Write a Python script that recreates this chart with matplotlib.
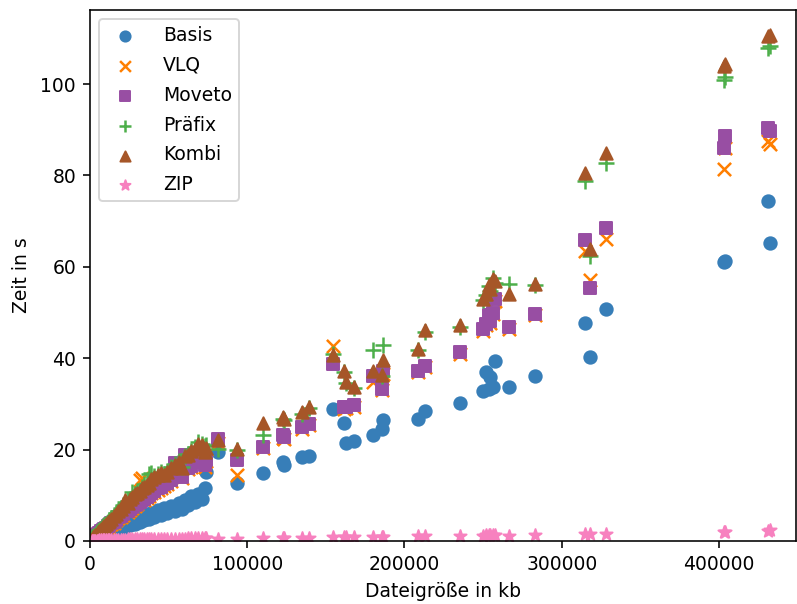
import matplotlib
matplotlib.use("Agg")
import matplotlib.pyplot as plt

# file sizes in kb
size_kb = [1000, 1800, 2600, 3400, 4300, 5200, 6000, 7000, 8000, 9000,
           10000, 11200, 12400, 13600, 15000, 16500, 18000, 19500, 21000, 22500,
           24000, 25500, 27000, 28500, 30000, 31500, 33000, 34500, 36000, 37500,
           39000, 41000, 43000, 45000, 47000, 49000, 51500, 54000, 56500, 58500,
           60500, 62500, 64500, 66500, 69000, 71000, 73000, 73500,
           81600, 93200, 109800, 122500, 123500, 134600, 139400, 154700, 161500, 162500,
           168000, 180000, 185500, 186500, 208300, 213000, 235200, 250000, 252000, 253500,
           254500, 256000, 257500, 266400, 282900, 314700, 317800, 328200, 403000, 403700,
           431000, 432300]

basis = [0.3, 0.4, 0.6, 0.5, 0.9, 0.8, 1.2, 1.0, 1.5, 1.3,
         1.8, 1.6, 2.3, 1.9, 2.7, 2.3, 3.1, 2.6, 3.6, 3.0,
         4.0, 3.4, 4.5, 3.8, 5.0, 4.2, 5.4, 4.6, 5.9, 4.9,
         6.2, 5.3, 6.7, 5.7, 7.2, 6.1, 7.7, 6.6, 8.4, 7.1,
         8.9, 7.8, 9.8, 8.5, 10.3, 9.2, 11.5, 15.1,
         19.5, 12.6, 14.9, 17.3, 16.6, 18.3, 18.7, 28.8, 25.8, 21.5,
         21.9, 23.3, 24.4, 26.4, 26.8, 28.4, 30.2, 32.8, 37.0, 33.3,
         35.9, 33.6, 39.3, 33.8, 36.0, 47.7, 40.2, 50.7, 61.0, 61.2,
         74.5, 65.2]

vlq = [0.5, 0.7, 0.9, 1.1, 1.3, 1.5, 1.7, 2.0, 2.3, 2.5,
       2.8, 3.1, 3.4, 3.7, 4.0, 4.5, 5.0, 5.2, 5.6, 6.9,
       6.3, 6.8, 7.2, 7.6, 8.0, 13.3, 13.7, 9.0, 9.5, 9.9,
       10.4, 10.8, 11.2, 11.6, 12.1, 12.5, 13.1, 16.6, 14.3, 13.8,
       18.5, 15.7, 16.2, 17.0, 17.6, 17.7, 16.3, 17.4,
       21.5, 14.4, 20.4, 22.6, 22.3, 24.6, 25.3, 42.6, 28.9, 29.0,
       29.4, 34.8, 33.0, 36.6, 37.0, 38.0, 41.0, 46.0, 47.2, 49.2,
       47.8, 49.7, 52.6, 46.5, 49.4, 63.5, 57.1, 66.1, 81.5, 86.0,
       87.5, 86.8]

moveto = [0.5, 0.7, 0.9, 1.1, 1.4, 1.6, 1.8, 2.1, 2.4, 2.6,
          2.9, 3.2, 3.5, 3.9, 4.2, 4.6, 5.2, 5.4, 5.8, 7.1,
          6.5, 7.0, 7.4, 7.8, 8.2, 8.5, 9.0, 9.2, 9.7, 10.1,
          10.6, 11.0, 11.5, 11.8, 12.4, 12.7, 13.4, 17.0, 14.6, 14.0,
          18.8, 16.0, 16.5, 17.3, 17.9, 18.0, 16.6, 17.7,
          22.4, 17.7, 20.6, 23.1, 22.8, 25.0, 25.7, 38.8, 29.3, 29.4,
          29.7, 36.2, 33.3, 37.2, 37.2, 38.3, 41.3, 46.3, 47.5, 49.5,
          48.1, 50.0, 53.0, 46.8, 49.7, 65.9, 55.3, 68.6, 86.1, 88.6,
          90.3, 89.8]

praefix = [0.6, 0.8, 1.1, 1.4, 1.7, 2.0, 2.3, 2.7, 3.1, 3.4,
           3.8, 4.1, 4.6, 5.0, 5.5, 6.1, 6.5, 7.2, 7.8, 8.6,
           8.7, 9.0, 10.8, 10.3, 10.7, 11.2, 11.8, 12.4, 12.5, 14.6,
           14.8, 14.2, 14.6, 15.1, 14.7, 15.4, 16.2, 16.9, 17.4, 16.2,
           18.7, 19.1, 19.8, 20.6, 21.7, 21.3, 20.8, 20.9,
           20.2, 19.9, 23.1, 26.8, 26.4, 27.9, 29.0, 41.0, 37.0, 34.5,
           33.5, 41.7, 36.0, 42.8, 41.8, 45.8, 46.9, 52.8, 53.8, 55.8,
           54.8, 57.6, 56.5, 56.3, 56.0, 78.8, 62.4, 82.8, 100.8, 101.5,
           107.8, 108.3]

kombi = [0.5, 0.8, 1.0, 1.3, 1.6, 1.9, 2.2, 2.6, 3.0, 3.2,
         3.7, 4.2, 4.4, 4.9, 5.4, 5.9, 6.6, 7.0, 7.6, 8.9,
         8.4, 9.2, 9.6, 10.2, 10.5, 11.0, 11.6, 11.9, 12.3, 12.8,
         13.6, 13.9, 14.5, 14.8, 14.4, 15.2, 15.9, 16.7, 17.3, 15.9,
         18.6, 18.8, 19.6, 20.2, 21.3, 21.0, 19.5, 20.4,
         22.2, 20.2, 25.8, 27.1, 26.6, 28.2, 29.3, 40.6, 37.3, 34.8,
         33.8, 37.1, 36.3, 39.7, 42.1, 46.2, 47.2, 53.0, 54.1, 56.0,
         55.1, 57.3, 56.8, 54.1, 56.3, 80.6, 63.9, 84.9, 103.9, 104.3,
         110.5, 110.8]

zip_t = [0.05, 0.05, 0.1, 0.1, 0.1, 0.1, 0.15, 0.15, 0.15, 0.2,
         0.2, 0.2, 0.2, 0.25, 0.25, 0.25, 0.3, 0.3, 0.3, 0.3,
         0.35, 0.35, 0.35, 0.35, 0.4, 0.4, 0.4, 0.4, 0.4, 0.4,
         0.45, 0.45, 0.45, 0.45, 0.45, 0.5, 0.5, 0.5, 0.5, 0.5,
         0.5, 0.55, 0.55, 0.55, 0.6, 0.6, 0.6, 0.6,
         0.5, 0.5, 0.6, 0.7, 0.7, 0.7, 0.75, 0.8, 0.8, 0.8,
         0.85, 0.9, 0.9, 0.9, 1.0, 1.0, 1.1, 1.2, 1.3, 1.3,
         1.3, 1.3, 1.3, 1.2, 1.3, 1.5, 1.6, 1.5, 2.0, 2.0,
         2.2, 2.3]

labels = ["Basis", "VLQ", "Moveto", "Präfix", "Kombi", "ZIP"]
series = [basis, vlq, moveto, praefix, kombi, zip_t]
colors = ["#377eb8", "#ff7f00", "#984ea3", "#4daf4a", "#a65628", "#f781bf"]
markers = ["o", "x", "s", "+", "^", "*"]
sizes = [80, 90, 80, 120, 80, 85]

for s in series:
    assert len(s) == len(size_kb)

FS = 13.5
plt.rcParams["font.family"] = ["DejaVu Sans"]
plt.rcParams["font.size"] = FS

W, H = 797, 604
fig = plt.figure(figsize=(W / 100, H / 100), dpi=100)
ax = fig.add_axes([90 / W, (H - 541) / H, 706 / W, 531 / H])

for lab, s, c, m, sz in zip(labels, series, colors, markers, sizes):
    if m in ("x", "+"):
        ax.scatter(size_kb, s, s=sz, marker=m, color=c, linewidths=1.8, label=lab)
    else:
        ax.scatter(size_kb, s, s=sz, marker=m, color=c, linewidths=1.4,
                   edgecolors="face", label=lab)

ax.set_xlim(0, 449000)
ax.set_ylim(0, 116.2)
ax.set_xticks([0, 100000, 200000, 300000, 400000])
ax.set_yticks([0, 20, 40, 60, 80, 100])
ax.set_xlabel("Dateigröße in kb", fontsize=FS, labelpad=5.5)
ax.set_ylabel("Zeit in s", fontsize=FS, labelpad=7)
ax.tick_params(labelsize=FS, length=5, width=1.15, pad=5)
for sp in ax.spines.values():
    sp.set_linewidth(1.15)

leg = ax.legend(loc="upper left", fontsize=FS, markerscale=0.82,
                labelspacing=0.58, handletextpad=1.05, borderpad=0.35)
leg.get_frame().set_linewidth(1.4)

fig.savefig("out.png", dpi=100)
